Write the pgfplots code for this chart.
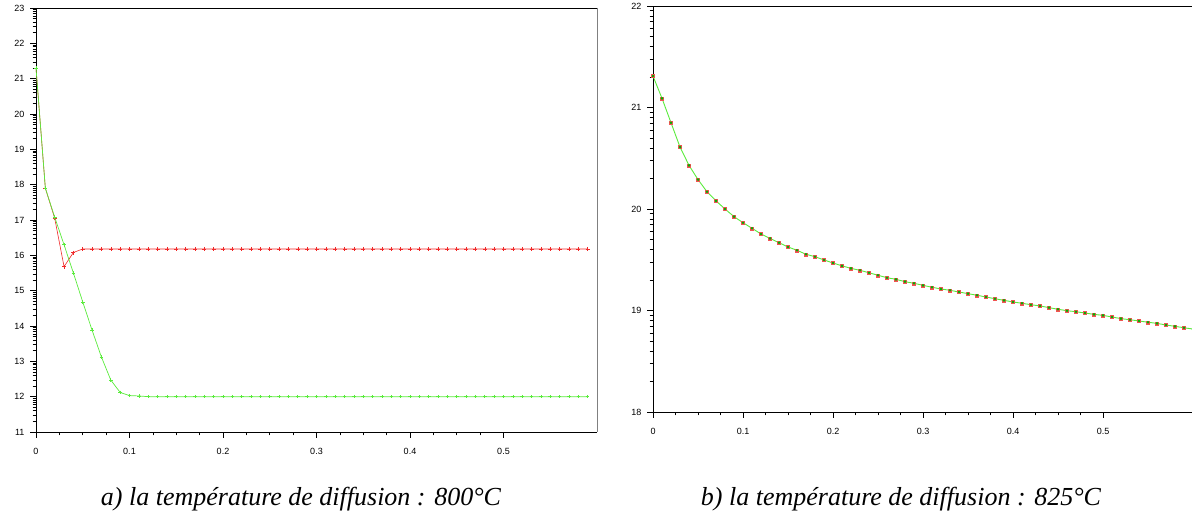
\documentclass[border=0pt]{standalone}
\usepackage{fontspec}
\setmainfont{Liberation Serif}
\newfontfamily\arial{Liberation Sans}
\usepackage{pgfplots}
\pgfplotsset{compat=1.18}
\definecolor{cred}{RGB}{240,40,40}
\definecolor{cgreen}{RGB}{90,235,60}
\pgfplotsset{
  myax/.style={
    scale only axis,
    axis lines*=left,
    axis line style={-, black, line width=0.8pt},
    tick align=outside,
    major tick length=6pt,
    minor tick length=3.5pt,
    every tick/.style={black, line width=0.8pt},
    minor tick style={line width=0.6pt},
    /pgf/number format/assume math mode=true,
    tick label style={font=\arial\fontsize{9}{10}\selectfont},
    xmin=0, xmax=0.6,
    xtick={0,0.1,0.2,0.3,0.4,0.5},
    xticklabels={0,0.1,0.2,0.3,0.4,0.5},
    minor x tick num=3,
    xticklabel style={yshift=-7pt},
    yticklabel style={xshift=-2pt},
    clip=false,
  }
}
\begin{document}
\begin{tikzpicture}[x=1pt,y=1pt]
\path[use as bounding box] (0,0) rectangle (1192,519);
\begin{scope}
\clip (0,0) rectangle (1192,519);
% ---------- left plot ----------
\begin{axis}[myax, at={(36pt,87pt)}, anchor=south west,
  width=561pt, height=424pt,
  ymin=11, ymax=23, ytick={11,12,...,23},
  minor ytick={11.301,11.477,11.602,11.699,11.778,11.845,11.903,11.954,
  12.301,12.477,12.602,12.699,12.778,12.845,12.903,12.954,
  13.301,13.477,13.602,13.699,13.778,13.845,13.903,13.954,
  14.301,14.477,14.602,14.699,14.778,14.845,14.903,14.954,
  15.301,15.477,15.602,15.699,15.778,15.845,15.903,15.954,
  16.301,16.477,16.602,16.699,16.778,16.845,16.903,16.954,
  17.301,17.477,17.602,17.699,17.778,17.845,17.903,17.954,
  18.301,18.477,18.602,18.699,18.778,18.845,18.903,18.954,
  19.301,19.477,19.602,19.699,19.778,19.845,19.903,19.954,
  20.301,20.477,20.602,20.699,20.778,20.845,20.903,20.954,
  21.301,21.477,21.602,21.699,21.778,21.845,21.903,21.954,
  22.301,22.477,22.602,22.699,22.778,22.845,22.903,22.954},
]
\draw[black, line width=0.8pt] (rel axis cs:0,1) -- (rel axis cs:1,1);
\draw[gray, line width=1pt] (rel axis cs:1,0) -- (rel axis cs:1,1);
\addplot[cred, line width=0.6pt, mark=+, mark size=2pt] coordinates {
(0,21.3)(0.01,17.9)(0.02,17.05)(0.03,15.68)(0.04,16.08)(0.05,16.18)
(0.06,16.18)(0.07,16.18)(0.08,16.18)(0.09,16.18)(0.10,16.18)(0.11,16.18)
(0.12,16.18)(0.13,16.18)(0.14,16.18)(0.15,16.18)(0.16,16.18)(0.17,16.18)
(0.18,16.18)(0.19,16.18)(0.20,16.18)(0.21,16.18)(0.22,16.18)(0.23,16.18)
(0.24,16.18)(0.25,16.18)(0.26,16.18)(0.27,16.18)(0.28,16.18)(0.29,16.18)
(0.30,16.18)(0.31,16.18)(0.32,16.18)(0.33,16.18)(0.34,16.18)(0.35,16.18)
(0.36,16.18)(0.37,16.18)(0.38,16.18)(0.39,16.18)(0.40,16.18)(0.41,16.18)
(0.42,16.18)(0.43,16.18)(0.44,16.18)(0.45,16.18)(0.46,16.18)(0.47,16.18)
(0.48,16.18)(0.49,16.18)(0.50,16.18)(0.51,16.18)(0.52,16.18)(0.53,16.18)
(0.54,16.18)(0.55,16.18)(0.56,16.18)(0.57,16.18)(0.58,16.18)(0.59,16.18)
};
\addplot[cgreen, line width=0.7pt, mark=+, mark size=1.8pt] coordinates {
(0,21.3)(0.01,17.9)(0.02,17.08)(0.03,16.3)(0.04,15.5)(0.05,14.68)
(0.06,13.88)(0.07,13.12)(0.08,12.47)(0.09,12.12)(0.10,12.03)(0.11,12.02)
(0.12,12.0)(0.13,12.0)(0.14,12.0)(0.15,12.0)(0.16,12.0)(0.17,12.0)
(0.18,12.0)(0.19,12.0)(0.20,12.0)(0.21,12.0)(0.22,12.0)(0.23,12.0)
(0.24,12.0)(0.25,12.0)(0.26,12.0)(0.27,12.0)(0.28,12.0)(0.29,12.0)
(0.30,12.0)(0.31,12.0)(0.32,12.0)(0.33,12.0)(0.34,12.0)(0.35,12.0)
(0.36,12.0)(0.37,12.0)(0.38,12.0)(0.39,12.0)(0.40,12.0)(0.41,12.0)
(0.42,12.0)(0.43,12.0)(0.44,12.0)(0.45,12.0)(0.46,12.0)(0.47,12.0)
(0.48,12.0)(0.49,12.0)(0.50,12.0)(0.51,12.0)(0.52,12.0)(0.53,12.0)
(0.54,12.0)(0.55,12.0)(0.56,12.0)(0.57,12.0)(0.58,12.0)(0.59,12.0)
};
\end{axis}
% ---------- right plot ----------
\begin{axis}[myax, at={(653pt,107pt)}, anchor=south west,
  width=540pt, height=406pt,
  ymin=18, ymax=22, ytick={18,19,20,21,22},
  minor ytick={18.301,18.477,18.602,18.699,18.778,18.845,18.903,18.954,
  19.301,19.477,19.602,19.699,19.778,19.845,19.903,19.954,
  20.301,20.477,20.602,20.699,20.778,20.845,20.903,20.954,
  21.301,21.477,21.602,21.699,21.778,21.845,21.903,21.954},
]
\draw[black, line width=0.8pt] (rel axis cs:0,1) -- (rel axis cs:1,1);
\addplot[only marks, cred!80, mark=square*, mark size=1.5pt] coordinates {
(0,21.31)(0.01,21.09)(0.02,20.85)(0.03,20.61)(0.04,20.43)(0.05,20.29)
(0.06,20.17)(0.07,20.08)(0.08,20.0)(0.09,19.925)(0.10,19.865)(0.11,19.81)
(0.12,19.754)(0.13,19.71)(0.14,19.668)(0.15,19.626)(0.16,19.593)(0.17,19.554)
(0.18,19.53)(0.19,19.498)(0.20,19.468)(0.21,19.44)(0.22,19.415)(0.23,19.396)
(0.24,19.372)(0.25,19.347)(0.26,19.323)(0.27,19.307)(0.28,19.284)(0.29,19.268)
(0.30,19.248)(0.31,19.229)(0.32,19.212)(0.33,19.199)(0.34,19.182)(0.35,19.166)
(0.36,19.15)(0.37,19.133)(0.38,19.116)(0.39,19.1)(0.40,19.084)(0.41,19.071)
(0.42,19.057)(0.43,19.045)(0.44,19.028)(0.45,19.012)(0.46,18.998)(0.47,18.988)
(0.48,18.975)(0.49,18.962)(0.50,18.952)(0.51,18.936)(0.52,18.92)(0.53,18.909)
(0.54,18.897)(0.55,18.884)(0.56,18.873)(0.57,18.857)(0.58,18.844)(0.59,18.83)
};
\addplot[cgreen, line width=0.9pt, mark=*, mark size=0.8pt, mark options={fill=green!70!black, draw=green!70!black}] coordinates {
(0,21.31)(0.01,21.09)(0.02,20.85)(0.03,20.61)(0.04,20.43)(0.05,20.29)
(0.06,20.17)(0.07,20.08)(0.08,20.0)(0.09,19.925)(0.10,19.865)(0.11,19.81)
(0.12,19.754)(0.13,19.71)(0.14,19.668)(0.15,19.626)(0.16,19.593)(0.17,19.554)
(0.18,19.53)(0.19,19.498)(0.20,19.468)(0.21,19.44)(0.22,19.415)(0.23,19.396)
(0.24,19.372)(0.25,19.347)(0.26,19.323)(0.27,19.307)(0.28,19.284)(0.29,19.268)
(0.30,19.248)(0.31,19.229)(0.32,19.212)(0.33,19.199)(0.34,19.182)(0.35,19.166)
(0.36,19.15)(0.37,19.133)(0.38,19.116)(0.39,19.1)(0.40,19.084)(0.41,19.071)
(0.42,19.057)(0.43,19.045)(0.44,19.028)(0.45,19.012)(0.46,18.998)(0.47,18.988)
(0.48,18.975)(0.49,18.962)(0.50,18.952)(0.51,18.936)(0.52,18.92)(0.53,18.909)
(0.54,18.897)(0.55,18.884)(0.56,18.873)(0.57,18.857)(0.58,18.844)(0.59,18.83)
(0.6,18.817)
};
\end{axis}
\end{scope}
\node[font=\itshape\fontsize{26}{30}\selectfont] at (301,20) {a) la température de diffusion : 800°C};
\node[font=\itshape\fontsize{26}{30}\selectfont] at (901,20) {b) la température de diffusion : 825°C};
\end{tikzpicture}
\end{document}
